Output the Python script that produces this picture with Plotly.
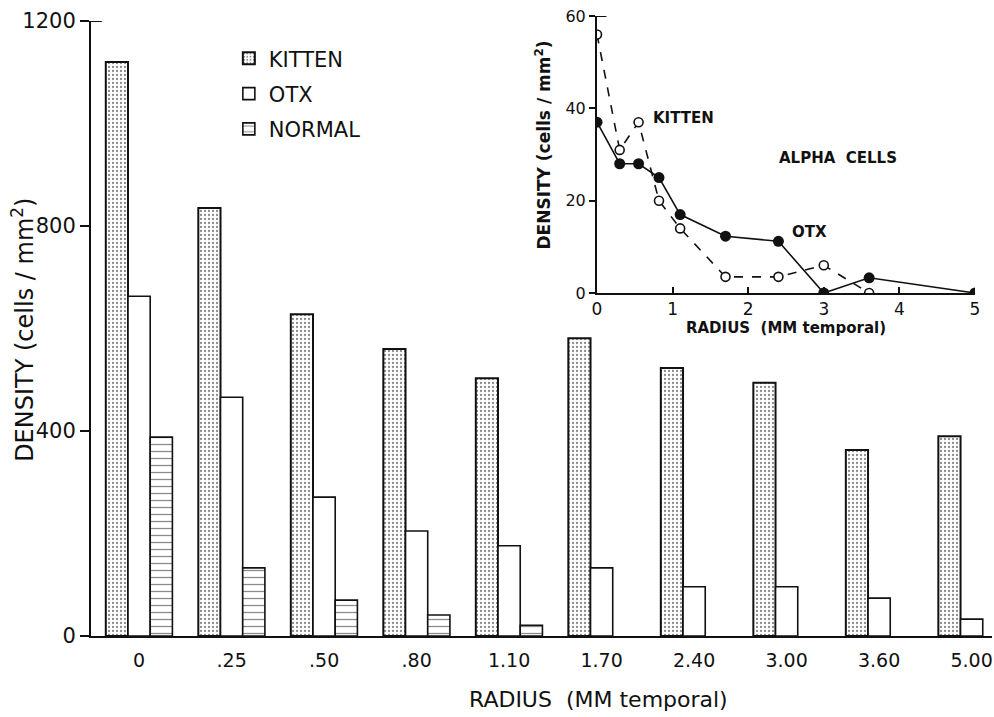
import plotly.graph_objects as go

# ---------------- data ----------------
radius_labels = ["0", ".25", ".50", ".80", "1.10", "1.70", "2.40", "3.00", "3.60", "5.00"]
kitten_density = [1120, 835, 628, 560, 503, 581, 523, 494, 363, 390]
otx_density = [663, 466, 271, 205, 176, 133, 96, 96, 74, 33]
normal_density = [388, 133, 70, 41, 21, None, None, None, None, None]

# inset: alpha cells
alpha_kitten_r = [0, 0.3, 0.55, 0.82, 1.1, 1.7, 2.4, 3.0, 3.6]
alpha_kitten_d = [56, 31, 37, 20, 14, 3.5, 3.5, 6, 0]
alpha_otx_r = [0, 0.3, 0.55, 0.82, 1.1, 1.7, 2.4, 3.0, 3.6, 5.0]
alpha_otx_d = [37, 28, 28, 25, 17, 12.3, 11.2, 0, 3.3, 0]

main_yticks = [0, 400, 800, 1200]
inset_xticks = [0, 1, 2, 3, 4, 5]
inset_yticks = [0, 20, 40, 60]

FONT = "DejaVu Sans"
BLACK = "#111111"

fig = go.Figure()

fig.add_trace(go.Bar(
    x=radius_labels, y=kitten_density, name="KITTEN", legendgroup="k",
    marker=dict(color="white", line=dict(color=BLACK, width=2),
                pattern=dict(shape=".", fgcolor=BLACK, bgcolor="white", size=4, solidity=0.25)),
))
fig.add_trace(go.Bar(
    x=radius_labels, y=otx_density, name="OTX", legendgroup="o",
    marker=dict(color="white", line=dict(color=BLACK, width=1.6)),
))
fig.add_trace(go.Bar(
    x=radius_labels, y=normal_density, name="NORMAL", legendgroup="n",
    marker=dict(color="white", line=dict(color=BLACK, width=1.6),
                pattern=dict(shape="-", fgcolor=BLACK, bgcolor="white", size=7, solidity=0.18)),
))

# inset lines
fig.add_trace(go.Scatter(
    x=alpha_kitten_r, y=alpha_kitten_d, xaxis="x2", yaxis="y2", mode="lines+markers",
    line=dict(color=BLACK, width=1.6, dash="dash"),
    marker=dict(symbol="circle", size=9, color="white", line=dict(color=BLACK, width=1.6)),
    showlegend=False,
))
fig.add_trace(go.Scatter(
    x=alpha_otx_r, y=alpha_otx_d, xaxis="x2", yaxis="y2", mode="lines+markers",
    line=dict(color=BLACK, width=1.6),
    marker=dict(symbol="circle", size=11, color=BLACK),
    showlegend=False,
))

fig.update_layout(
    width=994, height=717,
    margin=dict(l=91, r=2, t=10, b=81, autoexpand=False),
    paper_bgcolor="white", plot_bgcolor="rgba(0,0,0,0)",
    font=dict(family=FONT, color=BLACK),
    barmode="group", bargap=0.28, bargroupgap=0,
    showlegend=True,
    legend=dict(x=0.153, y=0.955, xanchor="left", yanchor="top",
                font=dict(size=21, family=FONT), bgcolor="rgba(0,0,0,0)",
                tracegroupgap=5, itemwidth=30),
    xaxis=dict(
        type="category", range=[-0.52, 9.22], showline=True, linecolor=BLACK, linewidth=2,
        ticks="", showgrid=False, zeroline=False, tickfont=dict(size=19),
        ticklabelstandoff=6, automargin=False,
    ),
    yaxis=dict(
        domain=[0, 0.9824], range=[0, 1200], tickvals=main_yticks,
        showline=True, linecolor=BLACK, linewidth=2, ticks="outside", ticklen=9,
        tickwidth=2, tickcolor=BLACK, showgrid=False, zeroline=False,
        tickfont=dict(size=21), automargin=False,
    ),
    xaxis2=dict(
        domain=[0.5616, 0.9811], anchor="y2", range=[0, 5], tickvals=inset_xticks,
        showline=True, linecolor=BLACK, linewidth=2, ticks="inside", ticklen=6,
        tickwidth=1.5, tickcolor=BLACK, showgrid=False, zeroline=False,
        tickfont=dict(size=17), automargin=False,
        title=dict(text="<b>RADIUS  (MM temporal)</b>", font=dict(size=15), standoff=3),
    ),
    yaxis2=dict(
        domain=[0.5479, 0.9904], anchor="x2", range=[0, 60], tickvals=inset_yticks,
        showline=True, linecolor=BLACK, linewidth=2, ticks="outside", ticklen=6,
        tickwidth=1.5, tickcolor=BLACK, showgrid=False, zeroline=False,
        tickfont=dict(size=16), automargin=False,
    ),
    annotations=[
        # main axis titles
        dict(text="RADIUS  (MM temporal)", x=0.563, y=-0.102, xref="paper", yref="paper",
             xanchor="center", yanchor="middle", showarrow=False, font=dict(size=22)),
        dict(text="DENSITY (cells / mm<sup>2</sup>)", x=-0.0755, y=0.489, xref="paper", yref="paper",
             xanchor="center", yanchor="middle", showarrow=False, textangle=-90,
             font=dict(size=24)),
        # inset y title
        dict(text="<b>DENSITY (cells / mm<sup>2</sup>)</b>", x=0.502, y=0.784, xref="paper",
             yref="paper", xanchor="center", yanchor="middle", showarrow=False,
             textangle=-90, font=dict(size=17)),
        # inset labels
        dict(text="<b>KITTEN</b>", x=0.72, y=38, xref="x2", yref="y2", xanchor="left",
             yanchor="middle", showarrow=False, font=dict(size=15)),
        dict(text="<b>ALPHA  CELLS</b>", x=2.38, y=29.3, xref="x2", yref="y2", xanchor="left",
             yanchor="middle", showarrow=False, font=dict(size=15)),
        dict(text="<b>OTX</b>", x=2.55, y=13.2, xref="x2", yref="y2", xanchor="left",
             yanchor="middle", showarrow=False, font=dict(size=15)),
    ],
    shapes=[
        dict(type="line", xref="x domain", yref="y", x0=0, x1=0.012, y0=1200, y1=1200,
             line=dict(color=BLACK, width=2)),
        dict(type="line", xref="x2 domain", yref="y2", x0=0, x1=0.025, y0=60, y1=60,
             line=dict(color=BLACK, width=2)),
    ],
)

fig.write_html("out.html", config={"displayModeBar": False},
               post_script="document.body.style.margin='0';document.body.style.overflow='hidden';")
